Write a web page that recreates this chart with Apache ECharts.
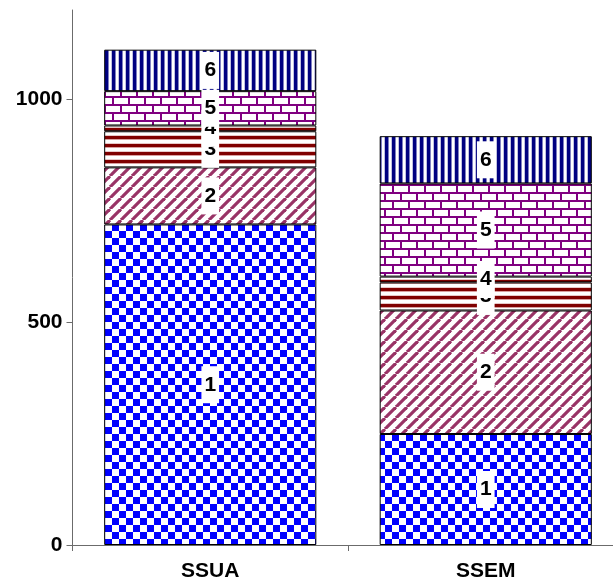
<!DOCTYPE html>
<html>
<head>
<meta charset="utf-8">
<script src="https://cdn.jsdelivr.net/npm/echarts@6/dist/echarts.min.js"></script>
<style>
html,body{margin:0;padding:0;background:#fff;overflow:hidden;width:613px;height:584px;}
#chart{width:640px;height:584px;}
</style>
</head>
<body>
<div id="chart"></div>
<script>
const categories = ['SSUA', 'SSEM'];
const seriesNames = ['1', '2', '3', '4', '5', '6'];
const s1 = [719, 249];
const s2 = [128, 277];
const s3 = [81, 63];
const s4 = [13, 13];
const s5 = [77, 209];
const s6 = [93, 106];
const yTicks = [0, 500, 1000];

function tile(w, h, draw) {
  const c = document.createElement('canvas');
  c.width = w; c.height = h;
  const ctx = c.getContext('2d');
  ctx.fillStyle = '#fff';
  ctx.fillRect(0, 0, w, h);
  draw(ctx, w, h);
  return { image: c, repeat: 'repeat' };
}
const pat1 = tile(14, 14, (ctx) => {
  ctx.fillStyle = '#0000ff';
  ctx.fillRect(0, 0, 7, 7);
  ctx.fillRect(7, 7, 7, 7);
});
const pat2 = tile(11, 11, (ctx, w, h) => {
  ctx.strokeStyle = '#993366';
  ctx.lineWidth = 3.2;
  for (let k = -1; k <= 1; k++) {
    ctx.beginPath();
    ctx.moveTo(k * w, h);
    ctx.lineTo(k * w + w, 0);
    ctx.stroke();
  }
});
const pat3 = tile(8, 8, (ctx) => {
  ctx.fillStyle = '#800000';
  ctx.fillRect(0, 0, 8, 3);
  ctx.fillStyle = '#d9a0a0';
  ctx.fillRect(0, 3, 8, 1);
  ctx.fillStyle = '#e8c8c8';
  ctx.fillRect(0, 7, 8, 1);
});
const pat5 = tile(16, 16, (ctx) => {
  ctx.fillStyle = '#800080';
  ctx.fillRect(0, 0, 16, 2);
  ctx.fillRect(0, 8, 16, 2);
  ctx.fillRect(0, 0, 2, 8);
  ctx.fillRect(8, 8, 2, 8);
});
const pat6 = tile(7, 7, (ctx) => {
  ctx.fillStyle = '#000080';
  ctx.fillRect(0, 0, 3, 7);
  ctx.fillStyle = '#8080c0';
  ctx.fillRect(3, 0, 1, 7);
  ctx.fillStyle = '#c0c0e0';
  ctx.fillRect(6, 0, 1, 7);
});

const values = [s1, s2, s3, s4, s5, s6];
const patterns = [pat1, pat2, pat3, pat3, pat5, pat6];
const font = "'Liberation Sans', Arial, sans-serif";

const chart = echarts.init(document.getElementById('chart'), null, { renderer: 'canvas' });
chart.setOption({
  animation: false,
  backgroundColor: '#fff',
  grid: { left: 72.5, right: 16.5, top: 10, bottom: 39, containLabel: false },
  xAxis: {
    type: 'category',
    data: categories,
    axisLine: { lineStyle: { color: '#6b6b6b', width: 1 } },
    axisTick: { show: true, length: 6, lineStyle: { color: '#6b6b6b' } },
    axisLabel: { color: '#000', fontWeight: 'bold', fontSize: 21, fontFamily: font, margin: 16 },
    splitLine: { show: false }
  },
  yAxis: {
    type: 'value',
    min: 0,
    max: 1200,
    interval: 500,
    axisLine: { show: true, lineStyle: { color: '#6b6b6b', width: 1 } },
    axisTick: { show: true, length: 6, customValues: yTicks, lineStyle: { color: '#6b6b6b' } },
    axisLabel: {
      color: '#000', fontWeight: 'bold', fontSize: 21, fontFamily: font, margin: 10,
      customValues: yTicks, formatter: (v) => String(v)
    },
    splitLine: { show: false }
  },
  series: seriesNames.map((name, i) => ({
    name: name,
    type: 'bar',
    stack: 'total',
    barWidth: '77%',
    data: values[i],
    itemStyle: { color: patterns[i], borderColor: '#000', borderWidth: 1 },
    label: {
      show: true,
      position: 'inside',
      formatter: '{a}',
      color: '#000',
      fontWeight: 'bold',
      fontSize: 21,
      fontFamily: font,
      lineHeight: 21,
      backgroundColor: '#fff',
      padding: [8, 3, 8, 3]
    }
  }))
});
</script>
</body>
</html>
